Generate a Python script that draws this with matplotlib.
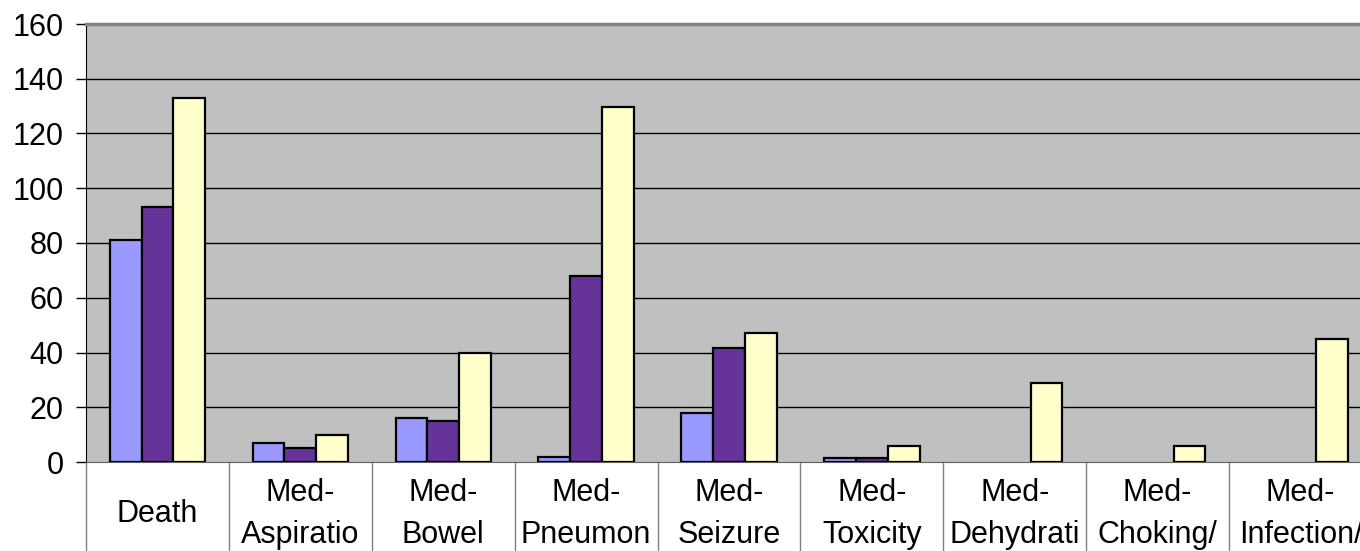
import numpy as np
import matplotlib
matplotlib.use("Agg")
import matplotlib.pyplot as plt
import matplotlib.transforms as mtransforms

plt.rcParams['font.family'] = ['Liberation Sans', 'DejaVu Sans']

categories = ["Death", "Med-\nAspiratio", "Med-\nBowel", "Med-\nPneumon", "Med-\nSeizure",
              "Med-\nToxicity", "Med-\nDehydrati", "Med-\nChoking/", "Med-\nInfection/"]
series_a = [81, 7, 16, 2, 18, 1.5, 0, 0, 0]
series_b = [93, 5, 15, 68, 41.5, 1.5, 0, 0, 0]
series_c = [133, 10, 40, 129.5, 47, 6, 29, 6, 45]
yticks = [0, 20, 40, 60, 80, 100, 120, 140, 160]

colors = ["#9999FF", "#663399", "#FFFFCC"]

W, H = 1360, 551
fig = plt.figure(figsize=(W / 100, H / 100), dpi=100)
ax = fig.add_axes([86 / W, (H - 462) / H, (1372 - 86) / W, (462 - 24) / H])
ax.set_facecolor("#C0C0C0")

x = np.arange(len(categories))
w = 1 / 4.5
for i, (vals, c) in enumerate(zip([series_a, series_b, series_c], colors)):
    vals = np.array(vals, dtype=float)
    keep = vals > 0  # empty categories get no bar outline
    ax.bar(x[keep] + (i - 1) * w, vals[keep], width=w, color=c, edgecolor="black",
           linewidth=1.6, zorder=3)

ax.set_xlim(-0.5, len(categories) - 0.5)
ax.set_ylim(0, 160)
ax.set_yticks(yticks)
ax.set_yticklabels([str(t) for t in yticks], fontsize=22)
ax.set_xticks([])
ax.tick_params(axis='y', length=7, width=1, color="black", pad=9)
for t in yticks[1:-1]:
    ax.axhline(t, color="black", linewidth=1, zorder=1)

ax.spines['top'].set_color("#808080")
ax.spines['top'].set_linewidth(2.5)
ax.spines['left'].set_color("black")
ax.spines['bottom'].set_color("#606060")
ax.spines['right'].set_visible(False)

# category label cells below the axis
trans = mtransforms.blended_transform_factory(ax.transData, ax.transAxes)
for k in range(len(categories) + 1):
    ax.plot([k - 0.5, k - 0.5], [0, -0.3], transform=trans, color="#808080",
            linewidth=1, clip_on=False)
for k, lab in enumerate(categories):
    ax.text(k, -(514 - 462) / 438, lab, transform=trans, ha="center", va="center",
            fontsize=22, linespacing=1.5, clip_on=False)

plt.savefig("out.png", dpi=100)
